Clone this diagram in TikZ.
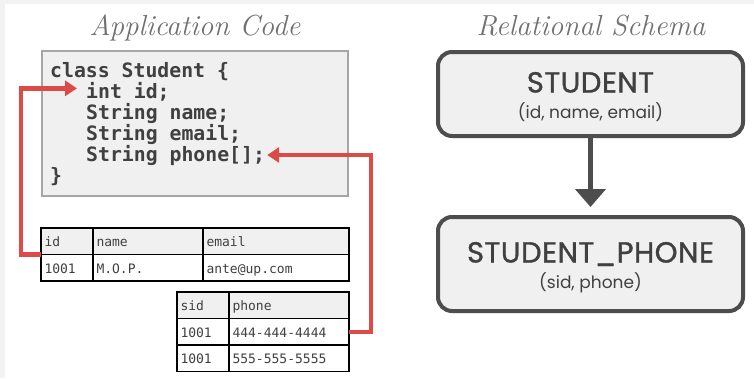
\documentclass[tikz,border=0pt]{standalone}
\usepackage{fontspec}
\newfontfamily\codefont{DejaVu Sans Mono}
\newfontfamily\relfont{Poppins}
\newfontfamily\relhead{Poppins}[FakeBold=1.2, LetterSpace=2]
\usetikzlibrary{arrows.meta,positioning}

\definecolor{bggray}{HTML}{F2F2F2}
\definecolor{boxfill}{HTML}{F0F0F0}
\definecolor{boxline}{HTML}{A6A6A6}
\definecolor{codegray}{HTML}{404040}
\definecolor{titlegray}{HTML}{707070}
\definecolor{redline}{HTML}{DC4B47}
\definecolor{reldark}{HTML}{4D4D4D}

\begin{document}
\begin{tikzpicture}[
    x=1pt, y=-1pt,
    title/.style={font=\fontsize{29}{32}\selectfont\itshape, text=titlegray, anchor=base},
    codebox/.style={draw=boxline, line width=2pt, fill=boxfill,
                    minimum width=306pt, minimum height=145pt},
    codeline/.style={font=\codefont\bfseries\fontsize{19.8}{21}\selectfont,
                     text=codegray, anchor=base west, inner sep=0pt},
    cell/.style={draw, line width=1.2pt, outer sep=0pt, anchor=north west,
                 minimum height=26.5pt, inner xsep=3.5pt, inner ysep=0pt,
                 text height=11pt, text depth=0pt, align=left,
                 font=\codefont\fontsize{13}{15}\selectfont, text=codegray},
    hdr/.style={cell, fill=boxfill},
    link/.style={draw=redline, line width=4.5pt,
                 -{Triangle[length=12pt,width=15pt]}},
    relbox/.style={draw=reldark, line width=4pt, fill=boxfill, rounded corners=14pt,
                   minimum width=305pt, align=center, text=codegray,
                   text height=49pt, text depth=0pt,
                   font=\relhead\fontsize{29}{26}\selectfont},
    relarrow/.style={draw=reldark, line width=5pt,
                     -{Triangle[length=18pt,width=30pt]}}
  ]
  \useasboundingbox (0,0) rectangle (754,378);
  \fill[bggray] (0,0) rectangle (754,378);
  \fill[white] (5,4) rectangle (754,378);

  % left side: class and its tables
  \node[title] (apptitle) at (195,35) {Application Code};
  \node[codebox] (code) at (195,123.5) {};
  \node[codeline] (lclass) at (50,77) {class Student \{};
  \node[codeline] (lid) at (86,98) {int id;};
  \node[codeline] (lname) at (86,119) {String name;};
  \node[codeline] (lemail) at (86,140) {String email;};
  \node[codeline] (lphone) at (86,161) {String phone[];};
  \node[codeline] (lend) at (50,182) {\}};

  \node[hdr, text width=45pt] (hid) at (41,228) {id};
  \node[hdr, text width=103pt, right=0pt of hid] (hname) {name};
  \node[hdr, text width=139pt, right=0pt of hname] (hemail) {email};
  \node[cell, text width=45pt, below=0pt of hid] (vid) {1001};
  \node[cell, text width=103pt, right=0pt of vid] (vname) {M.O.P.};
  \node[cell, text width=139pt, right=0pt of vname] (vemail) {ante@up.com};

  \node[hdr, text width=45pt] (hsid) at (177,292) {sid};
  \node[hdr, text width=113pt, right=0pt of hsid] (hphone) {phone};
  \node[cell, text width=45pt, below=0pt of hsid] (p1sid) {1001};
  \node[cell, text width=113pt, right=0pt of p1sid] (p1ph) {444-444-4444};
  \node[cell, text width=45pt, below=0pt of p1sid] (p2sid) {1001};
  \node[cell, text width=113pt, right=0pt of p2sid] (p2ph) {555-555-5555};

  \draw[link, shorten >=9pt] (hid.south west) -- ++(-20,0) |- ([yshift=3pt]lid.west);
  \draw[link, shorten >=2pt] (p1ph.east) -- ++(22,0) |- (lphone.east);

  % right side: schema
  \node[title] (reltitle) at (591,35) {Relational Schema};
  \node[relbox, minimum height=84pt] (student) at (590.5,94)
    {STUDENT\\{\relfont\fontsize{17}{26}\selectfont (id, name, email)}};
  \node[relbox, minimum height=94pt] (studphone) at (590.5,264)
    {STUDENT\_PHONE\\{\relfont\fontsize{17}{26}\selectfont (sid, phone)}};
  \draw[relarrow, shorten >=8pt] (student) -- (studphone);
\end{tikzpicture}
\end{document}
